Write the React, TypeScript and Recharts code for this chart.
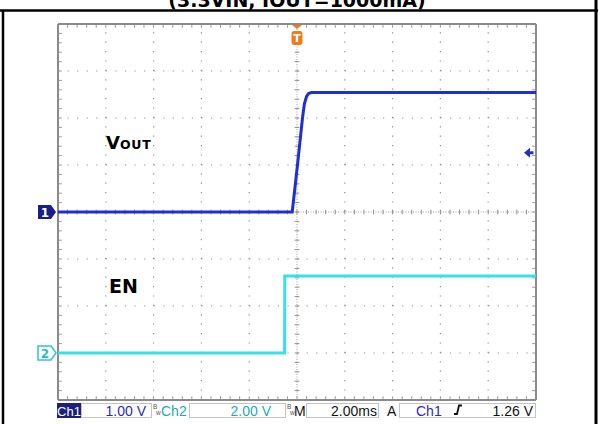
import { Line, LineChart, ReferenceDot, ReferenceLine, XAxis, YAxis } from 'recharts'

// scope settings
const ch1VoltsPerDiv = 1.0
const ch2VoltsPerDiv = 2.0
const ch1GroundDiv = 0
const ch2GroundDiv = -3
const triggerLevel = 1.26

// Ch1: VOUT (ms, V)
const voutTime = [-10, -0.2, 0.02, 0.23, 0.31, 0.4, 0.48, 0.6, 10]
const voutVolts = [0, 0, 1.0, 2.0, 2.3, 2.46, 2.52, 2.54, 2.54]

// Ch2: EN (ms, V)
const enTime = [-10, -0.52, -0.51, 10]
const enVolts = [0, 0, 3.28, 3.28]

// graticule: 10 x 8 divisions, 2 ms/div
const timeDivs = [-10, -8, -6, -4, -2, 0, 2, 4, 6, 8, 10]
const vertDivs = [-4, -3, -2, -1, 0, 1, 2, 3, 4]

const W = 611
const H = 424
const BLUE = '#1f2fd2'
const CYAN = '#33e2ec'
const GRID = '#8e8e8e'
const BORDER = '#8a8a8a'

const vout = voutTime.map((t, i) => ({ t, y: voutVolts[i] / ch1VoltsPerDiv + ch1GroundDiv }))
const en = enTime.map((t, i) => ({ t, y: enVolts[i] / ch2VoltsPerDiv + ch2GroundDiv }))

// minor ticks at 1/5 division
const minorT: number[] = []
for (let i = 0; i <= 50; i++) minorT.push(-10 + i * 0.4)
const minorV: number[] = []
for (let i = 0; i <= 40; i++) minorV.push(-4 + i * 0.2)

function Ch1Marker({ cx, cy }: any) {
  return (
    <g>
      <polygon
        points={`${cx - 20},${cy - 7} ${cx - 7},${cy - 7} ${cx - 2},${cy} ${cx - 7},${cy + 7} ${cx - 20},${cy + 7}`}
        fill="#1a1f86"
      />
      <text x={cx - 13} y={cy + 4.5} fill="#fff" fontSize={12} fontWeight="bold" fontFamily="DejaVu Sans" textAnchor="middle">
        1
      </text>
    </g>
  )
}

function Ch2Marker({ cx, cy }: any) {
  return (
    <g>
      <polygon
        points={`${cx - 20},${cy - 7} ${cx - 7},${cy - 7} ${cx - 2},${cy} ${cx - 7},${cy + 7} ${cx - 20},${cy + 7}`}
        fill="#fff"
        stroke="#2bc6cf"
        strokeWidth={1.5}
      />
      <text x={cx - 13} y={cy + 4.5} fill="#2bb8c2" fontSize={12} fontWeight="bold" fontFamily="DejaVu Sans" textAnchor="middle">
        2
      </text>
    </g>
  )
}

function TrigMarker({ cx, cy }: any) {
  return (
    <g>
      <polygon points={`${cx - 5},${cy + 1} ${cx + 5},${cy + 1} ${cx},${cy + 5}`} fill="#f07a1c" />
      <rect x={cx - 5.5} y={cy + 7} width={11} height={14} rx={3} fill="#f07a1c" />
      <text x={cx} y={cy + 18} fill="#fff" fontSize={11} fontWeight="bold" fontFamily="DejaVu Sans" textAnchor="middle">
        T
      </text>
    </g>
  )
}

function LevelMarker({ cx, cy }: any) {
  return (
    <g>
      <polygon points={`${cx - 12},${cy} ${cx - 6},${cy - 5} ${cx - 6},${cy + 5}`} fill={BLUE} />
      <rect x={cx - 6.5} y={cy - 1.5} width={4} height={3} fill={BLUE} />
    </g>
  )
}

function Overlay() {
  const status = { fontFamily: 'Liberation Sans', fontSize: 14 }
  const box = { fill: 'none', stroke: '#c4c4c4' }
  return (
    <svg width={W} height={H} style={{ position: 'absolute', left: 0, top: 0, pointerEvents: 'none' }}>
      {/* frame */}
      <line x1={0} y1={10.5} x2={598} y2={10.5} stroke="#000" strokeWidth={2.5} />
      <line x1={3} y1={10} x2={3} y2={H} stroke="#000" strokeWidth={2.5} />
      <line x1={596} y1={0} x2={596} y2={H} stroke="#000" strokeWidth={3} />
      <text x={297} y={7} textAnchor="middle" fontFamily="DejaVu Sans" fontWeight="bold" fontSize={19}>
        (3.3VIN, IOUT=1000mA)
      </text>

      {/* trace labels */}
      <text x={106} y={149} fontFamily="DejaVu Sans" fontWeight="bold" fontSize={18}>
        V<tspan fontSize={12.5} letterSpacing={0.8}>OUT</tspan>
      </text>
      <text x={109} y={293} fontFamily="DejaVu Sans" fontWeight="bold" fontSize={19}>
        EN
      </text>

      {/* status bar */}
      <rect x={57} y={403} width={24} height={15} fill="#1c1f7e" />
      <text x={69} y={415.5} fill="#fff" textAnchor="middle" {...status} fontSize={13}>Ch1</text>
      <rect x={81.5} y={403.5} width={70} height={14} {...box} />
      <text x={146} y={415.5} fill="#2a2ab6" textAnchor="end" {...status}>1.00 V</text>
      <text x={153} y={409} fill="#555" fontSize={6.5} fontFamily="Liberation Sans">B</text>
      <text x={156} y={415} fill="#555" fontSize={6.5} fontFamily="Liberation Sans">w</text>
      <text x={161} y={415.5} fill="#1fa9b4" {...status}>Ch2</text>
      <rect x={189.5} y={403.5} width={96} height={14} {...box} />
      <text x={271} y={415.5} fill="#1fa9b4" textAnchor="end" {...status}>2.00 V</text>
      <text x={287} y={409} fill="#555" fontSize={6.5} fontFamily="Liberation Sans">B</text>
      <text x={290} y={415} fill="#555" fontSize={6.5} fontFamily="Liberation Sans">w</text>
      <text x={294} y={415.5} fill="#111" {...status}>M</text>
      <rect x={306.5} y={403.5} width={72} height={14} {...box} />
      <text x={377} y={415.5} fill="#111" textAnchor="end" {...status}>2.00ms</text>
      <text x={387} y={415.5} fill="#111" {...status}>A</text>
      <rect x={399.5} y={403.5} width={136} height={14} {...box} />
      <text x={416} y={415.5} fill="#2a2ab6" {...status}>Ch1</text>
      <path d="M454 414 L457 414 L459 405.5 L462 405.5" fill="none" stroke="#111" strokeWidth={1.8} />
      <text x={533} y={415.5} fill="#111" textAnchor="end" {...status}>1.26 V</text>
    </svg>
  )
}

export default function App() {
  return (
    <div style={{ position: 'absolute', left: 0, top: 0, width: W, height: H, background: '#fff', overflow: 'hidden' }}>
      <LineChart width={W} height={H} margin={{ top: 24, right: 75, bottom: 24, left: 58 }}>
        <XAxis type="number" dataKey="t" domain={[-10, 10]} ticks={timeDivs} allowDataOverflow hide />
        <YAxis type="number" domain={[-4, 4]} ticks={vertDivs} allowDataOverflow hide />

        {/* dotted major grid */}
        {timeDivs
          .filter((t) => t !== 0 && Math.abs(t) !== 10)
          .map((t) => (
            <ReferenceLine key={`gx${t}`} x={t} stroke={GRID} strokeWidth={1.2} strokeDasharray="1.2 8.2" />
          ))}
        {vertDivs
          .filter((v) => v !== 0 && Math.abs(v) !== 4)
          .map((v) => (
            <ReferenceLine key={`gy${v}`} y={v} stroke={GRID} strokeWidth={1.2} strokeDasharray="1.2 8.36" />
          ))}

        {/* centre cross */}
        <ReferenceLine x={0} stroke="#a0a0a0" strokeDasharray="1 1.5" />
        <ReferenceLine y={0} stroke="#a0a0a0" strokeDasharray="1 1.5" />
        {minorT.map((t) => (
          <ReferenceLine key={`cx${t}`} segment={[{ x: t, y: -0.05 }, { x: t, y: 0.05 }]} stroke="#8e8e8e" />
        ))}
        {minorV.map((v) => (
          <ReferenceLine key={`cy${v}`} segment={[{ x: -0.1, y: v }, { x: 0.1, y: v }]} stroke="#8e8e8e" />
        ))}

        {/* border ticks */}
        {minorT.map((t) => (
          <ReferenceLine key={`tt${t}`} segment={[{ x: t, y: 4 }, { x: t, y: 3.92 }]} stroke="#9a9a9a" />
        ))}
        {minorT.map((t) => (
          <ReferenceLine key={`bt${t}`} segment={[{ x: t, y: -4 }, { x: t, y: -3.92 }]} stroke="#9a9a9a" />
        ))}
        {minorV.map((v) => (
          <ReferenceLine key={`lt${v}`} segment={[{ x: -10, y: v }, { x: -9.84, y: v }]} stroke="#9a9a9a" />
        ))}
        {minorV.map((v) => (
          <ReferenceLine key={`rt${v}`} segment={[{ x: 10, y: v }, { x: 9.84, y: v }]} stroke="#9a9a9a" />
        ))}

        {/* border */}
        <ReferenceLine x={-10} stroke={BORDER} strokeWidth={2} ifOverflow="visible" />
        <ReferenceLine x={10} stroke={BORDER} strokeWidth={2} ifOverflow="visible" />
        <ReferenceLine y={4} stroke={BORDER} strokeWidth={2} ifOverflow="visible" />
        <ReferenceLine y={-4} stroke={BORDER} strokeWidth={2} ifOverflow="visible" />

        <Line data={en} dataKey="y" type="linear" stroke={CYAN} strokeWidth={3} dot={false} isAnimationActive={false} />
        <Line data={vout} dataKey="y" type="linear" stroke={BLUE} strokeWidth={3} dot={false} isAnimationActive={false} />

        <ReferenceDot x={-10} y={ch1GroundDiv} r={0} ifOverflow="visible" shape={(p: any) => <Ch1Marker cx={p.cx} cy={p.cy} />} />
        <ReferenceDot x={-10} y={ch2GroundDiv} r={0} ifOverflow="visible" shape={(p: any) => <Ch2Marker cx={p.cx} cy={p.cy} />} />
        <ReferenceDot x={0} y={4} r={0} ifOverflow="visible" shape={(p: any) => <TrigMarker cx={p.cx} cy={p.cy} />} />
        <ReferenceDot
          x={10}
          y={triggerLevel / ch1VoltsPerDiv + ch1GroundDiv}
          r={0}
          ifOverflow="visible"
          shape={(p: any) => <LevelMarker cx={p.cx} cy={p.cy} />}
        />
      </LineChart>
      <Overlay />
    </div>
  )
}
